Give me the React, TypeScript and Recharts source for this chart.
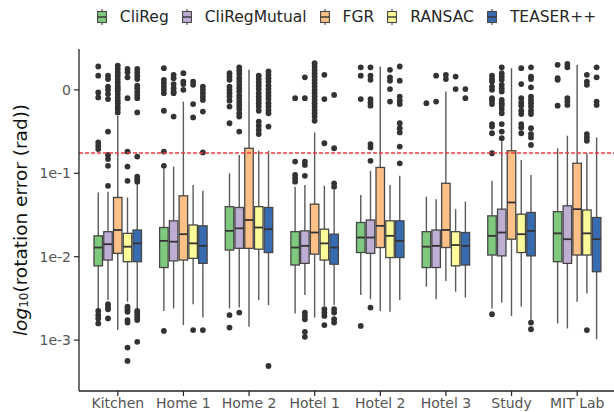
import React from "react";
import { Bar, ComposedChart, Label, Legend, ReferenceLine, XAxis, YAxis } from "recharts";

const categories = ["Kitchen", "Home 1", "Home 2", "Hotel 1", "Hotel 2", "Hotel 3", "Study", "MIT Lab"];
const methods = ["CliReg", "CliRegMutual", "FGR", "RANSAC", "TEASER++"];
const colors = ["#7fc97f", "#beaed4", "#fdc086", "#fdfb99", "#386cb0"];
const yTicks = [-3, -2, -1, 0];
const yTickLabels = ["1e-3", "1e-2", "1e-1", "0"];
const threshold = Math.log10(0.1745); // 10 degrees

// per scene: [low whisker, q1, median, q3, high whisker], log10(rad)
const cliReg = [
  [-2.63, -2.11, -1.89, -1.75, -1.23],
  [-2.65, -2.13, -1.81, -1.65, -0.95],
  [-2.62, -1.92, -1.69, -1.4, -1.0],
  [-2.68, -2.1, -1.89, -1.7, -1.16],
  [-2.46, -1.95, -1.77, -1.59, -1.26],
  [-2.36, -2.13, -1.88, -1.7, -1.28],
  [-2.62, -1.98, -1.75, -1.51, -1.09],
  [-2.8, -2.06, -1.72, -1.46, -0.7],
];
const cliRegMutual = [
  [-2.52, -2.04, -1.85, -1.7, -1.22],
  [-2.62, -2.05, -1.82, -1.57, -0.92],
  [-2.61, -1.9, -1.66, -1.41, -0.78],
  [-2.46, -2.08, -1.87, -1.69, -1.14],
  [-2.51, -1.96, -1.77, -1.56, -0.97],
  [-2.51, -2.13, -1.87, -1.68, -1.31],
  [-2.55, -1.99, -1.71, -1.43, -0.62],
  [-2.86, -2.08, -1.79, -1.39, -0.55],
];
const fgr = [
  [-2.88, -1.96, -1.68, -1.29, -0.31],
  [-2.82, -2.04, -1.73, -1.27, -0.14],
  [-2.84, -1.9, -1.56, -0.7, 0.24],
  [-2.73, -1.97, -1.71, -1.37, -0.51],
  [-2.65, -1.89, -1.63, -0.93, 0.28],
  [-2.29, -1.89, -1.68, -1.12, -0.02],
  [-2.71, -1.79, -1.35, -0.73, 0.26],
  [-2.54, -1.98, -1.43, -0.88, 0.3],
];
const ransac = [
  [-2.54, -2.06, -1.88, -1.72, -1.29],
  [-2.57, -2.02, -1.84, -1.62, -1.14],
  [-2.52, -1.91, -1.65, -1.4, -0.73],
  [-2.59, -2.04, -1.84, -1.67, -1.15],
  [-2.66, -2.01, -1.75, -1.57, -1.14],
  [-2.42, -2.11, -1.86, -1.7, -1.43],
  [-2.6, -1.95, -1.73, -1.49, -0.84],
  [-2.44, -1.98, -1.72, -1.44, -0.76],
];
const teaser = [
  [-2.63, -2.06, -1.84, -1.68, -1.12],
  [-2.73, -2.08, -1.87, -1.63, -1.21],
  [-2.58, -1.95, -1.67, -1.41, -0.73],
  [-2.58, -2.09, -1.89, -1.73, -1.2],
  [-2.52, -2.01, -1.81, -1.57, -1.03],
  [-2.49, -2.1, -1.87, -1.71, -1.34],
  [-2.76, -1.99, -1.69, -1.47, -1.02],
  [-2.99, -2.18, -1.79, -1.53, -0.57],
];

// outliers per scene, log10(rad)
const cliRegOut = [
  [0.28, 0.17, -0.03, -0.09, -0.63, -0.67, -0.71, -2.65, -2.7, -2.74, -2.8],
  [0.26, 0.12, 0.08, 0.04, 0, -0.04, -0.25, -0.74, -0.91, -2.89],
  [0.2, 0.16, 0.12, 0.04, 0, -0.04, -0.08, -0.13, -0.2, -0.4, -2.7, -2.85],
  [-0.1, -0.86, -1.02, -1.06, -1.1],
  [0.27, 0.17, -0.11, -2.83],
  [-0.16],
  [0.17, 0.13, 0.1, 0.04, 0, -0.1, -0.13, -0.17, -0.41, -0.44, -0.52, -0.76, -2.69],
  [0.3, 0.14, 0.12, -0.19],
];
const cliRegMutualOut = [
  [0.17, 0.13, 0.04, 0, -0.05, -0.11, -0.5, -0.78, -0.83, -0.91, -1.15, -2.57, -2.6, -2.63, -2.74],
  [0.18, 0.14, 0.07, 0.02, -0.02, -0.04, -0.32],
  [0.27, 0.23, 0.19, 0.14, 0.1, 0.06, 0.02, -0.02, -0.07, -0.11, -0.15, -0.19, -0.23, -0.28, -0.32, -0.5, -2.67],
  [0.15, -0.1, -0.86, -0.9, -1.03, -2.67, -2.71, -2.75, -2.9, -2.96],
  [0.27, 0.17, 0.12, -0.11, -0.15, -0.19, -0.65, -0.69, -0.85, -2.61],
  [0.17, -0.14],
  [0.27, 0.2, 0.16, 0.12, 0.06, 0.02, -0.02, -0.12, -0.16, -0.19, -0.23, -0.28, -0.41, -0.5, -0.58],
  [0.31, 0.27, -0.1, -0.14, -0.18],
];
const fgrOut = [
  [0.29, 0.25, 0.21, 0.17, 0.13, 0.09, 0.05, 0.02, -0.01, -0.05, -0.09, -0.13, -0.16, -0.2, -0.23, -0.27],
  [0.2, 0.1, 0.07, 0],
  [],
  [0.32, 0.28, 0.24, 0.2, 0.16, 0.12, 0.08, 0.04, 0, -0.04, -0.08, -0.12, -0.16, -0.2, -0.24, -0.28, -0.32, -0.37],
  [],
  [0.18, 0.13],
  [],
  [],
];
const ransacOut = [
  [0.25, 0.21, 0.15, -0.1, -0.74, -0.92, -1.09, -2.6, -2.63, -2.66, -2.76, -2.79, -3.09, -3.25],
  [0.1, 0.06, -0.17, -0.33, -2.88],
  [0.17, 0.13, 0.09, 0.05, 0.01, -0.04, -0.08, -0.12, -0.16, -0.2, -0.25, -0.38, -0.43, -0.48, -0.53],
  [0.18, -0.11, -0.64, -2.63, -2.67, -2.71, -2.82],
  [0.24, 0.15, 0.11, 0.01, -0.14],
  [0.16, 0.01],
  [0.26, 0.07, -0.1, -0.15, -0.19, -0.25, -0.29, -0.41, -0.45, -0.52],
  [0.18, 0.1, 0.06, -0.53, -0.57, -0.61, -2.88],
];
const teaserOut = [
  [0.25, 0.21, 0.17, 0.13, 0.05, 0.02, -0.02, -0.06, -0.1, -0.27, -0.8, -1.04, -1.07, -1.1, -2.65, -2.67, -2.7, -2.73, -2.76, -3.02],
  [0.04, 0, -0.04, -0.08, -0.12, -0.26, -0.75, -2.88],
  [0.22, 0.18, 0.14, 0.1, 0.05, 0.01, -0.03, -0.07, -0.11, -0.16, -0.2, -0.24, -0.28, -0.44, -3.31],
  [-0.06, -0.7, -1.12, -1.16, -2.63, -2.67, -2.75, -2.79],
  [0.28, 0.11, -0.08, -0.13, -0.17, -0.4, -0.46, -0.51, -0.68, -0.88],
  [0.01, -0.1],
  [0.27, 0.16, 0.13, 0.03, -0.08, -0.12, -0.16, -0.2, -0.25, -0.29, -0.46, -0.53, -0.57, -0.66, -2.79, -2.87],
  [0.27, 0.15, -0.14, -0.18],
];

const stats = [cliReg, cliRegMutual, fgr, ransac, teaser];
const outliers = [cliRegOut, cliRegMutualOut, fgrOut, ransacOut, teaserOut];

const data = categories.map((name, c) => {
  const row: any = { name };
  methods.forEach((m, k) => {
    row[m] = { s: stats[k][c], out: outliers[k][c] };
  });
  return row;
});

const FONT = "DejaVu Sans";

// the bar covers the whisker range; everything else is placed on the same (linear) scale
function BoxShape(props: any) {
  const { x, y, width, height, payload, method, color } = props;
  const st = payload[method];
  const [lo, q1, med, q3, hi] = st.s;
  const top = Math.min(y, y + height);
  const bot = Math.max(y, y + height);
  const py = (v: number) => top + ((hi - v) / (hi - lo)) * (bot - top);
  const cx = x + width / 2;
  return (
    <g>
      <line x1={cx} x2={cx} y1={py(hi)} y2={py(lo)} stroke="#5a5a5a" strokeWidth={1.4} />
      <rect x={x} y={py(q3)} width={width} height={py(q1) - py(q3)} fill={color} stroke="#474747" strokeWidth={1.3} />
      <line x1={x} x2={x + width} y1={py(med)} y2={py(med)} stroke="#333" strokeWidth={1.8} />
      {st.out.map((v: number, k: number) => (
        <circle key={k} cx={cx} cy={py(v)} r={2.9} fill="#333" />
      ))}
    </g>
  );
}

function LegendContent() {
  return (
    <div
      style={{
        display: "flex",
        justifyContent: "center",
        alignItems: "center",
        height: 26,
        fontFamily: FONT,
        fontSize: 15.5,
        color: "#262626",
      }}
    >
      {methods.map((m, i) => (
        <div key={m} style={{ display: "flex", alignItems: "center", marginRight: i < methods.length - 1 ? 13 : 0 }}>
          <svg width={10} height={18}>
            <line x1={5} x2={5} y1={1} y2={17} stroke="#555" strokeWidth={1.2} />
            <rect x={0.6} y={3.5} width={8.8} height={11} fill={colors[i]} stroke="#474747" strokeWidth={1.1} />
            <line x1={0.6} x2={9.4} y1={9} y2={9} stroke="#333" strokeWidth={1.4} />
          </svg>
          <span style={{ marginLeft: 13 }}>{m}</span>
        </div>
      ))}
    </div>
  );
}

function YLabel(props: any) {
  const { viewBox } = props;
  const cy = viewBox.y + viewBox.height / 2;
  const cx = 20;
  return (
    <text
      x={cx}
      y={cy}
      transform={`rotate(-90 ${cx} ${cy})`}
      textAnchor="middle"
      dominantBaseline="central"
      fontFamily={FONT}
      fontSize={18.5}
      fill="#111"
    >
      <tspan fontStyle="italic">log</tspan>
      <tspan fontSize={12} dy={4}>10</tspan>
      <tspan dy={-4}>(rotation error (rad))</tspan>
    </text>
  );
}

export default function App() {
  return (
    <div style={{ position: "absolute", left: 0, top: 0, width: 614, height: 412, background: "#fff" }}>
      <ComposedChart
        width={614}
        height={412}
        data={data}
        margin={{ top: 23, right: 0, bottom: 0, left: 0 }}
        barSize={8.5}
        barGap={1.25}
        style={{ fontFamily: FONT }}
      >
        <Legend verticalAlign="top" content={<LegendContent />} wrapperStyle={{ top: 4, left: 79, width: 535 }} />
        <XAxis
          dataKey="name"
          height={21}
          padding={{ left: 6, right: 4 }}
          tickSize={5}
          tickMargin={2}
          axisLine={{ stroke: "#222", strokeWidth: 1.3 }}
          tickLine={{ stroke: "#222", strokeWidth: 1.2 }}
          tick={{ fill: "#555", fontSize: 14, fontFamily: FONT }}
          interval={0}
        />
        <YAxis
          type="number"
          width={79}
          domain={[-3.61, 0.49]}
          allowDataOverflow
          ticks={yTicks}
          tickFormatter={(v: number) => yTickLabels[yTicks.indexOf(v)]}
          tickSize={5}
          tickMargin={3}
          axisLine={{ stroke: "#222", strokeWidth: 1.3 }}
          tickLine={{ stroke: "#222", strokeWidth: 1.2 }}
          tick={{ fill: "#555", fontSize: 14, fontFamily: FONT }}
        >
          <Label content={<YLabel />} />
        </YAxis>
        {methods.map((m, k) => (
          <Bar
            key={m}
            dataKey={(d: any) => [d[m].s[0], d[m].s[4]]}
            name={m}
            fill={colors[k]}
            isAnimationActive={false}
            shape={(p: any) => <BoxShape {...p} method={m} color={colors[k]} />}
          />
        ))}
        <ReferenceLine y={threshold} stroke="#f03c3c" strokeOpacity={1} strokeWidth={1.5} strokeDasharray="4 2" ifOverflow="extendDomain" />
      </ComposedChart>
    </div>
  );
}
